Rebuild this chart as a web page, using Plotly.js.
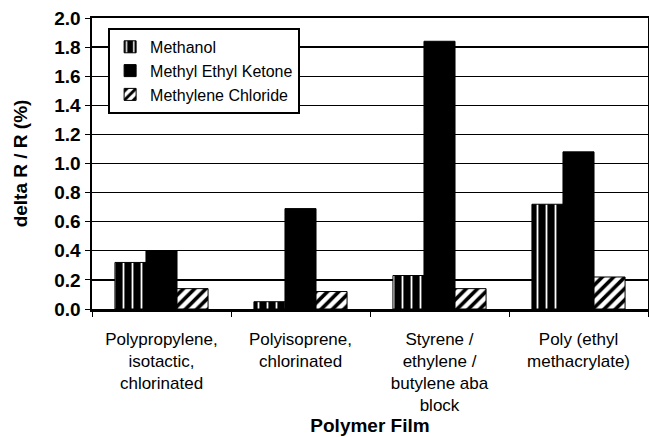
<!DOCTYPE html>
<html>
<head>
<meta charset="utf-8">
<script src="https://cdn.plot.ly/plotly-3.0.1.min.js"></script>
<style>html,body{margin:0;padding:0;background:#fff;}#chart{width:649px;height:437px;}</style>
</head>
<body>
<div id="chart"></div>
<script>
var categories = [
  "Polypropylene,<br>isotactic,<br>chlorinated",
  "Polyisoprene,<br>chlorinated",
  "Styrene /<br>ethylene /<br>butylene aba<br>block",
  "Poly (ethyl<br>methacrylate)"
];
var methanol = [0.32, 0.05, 0.23, 0.72];
var mek = [0.40, 0.69, 1.84, 1.08];
var methyleneChloride = [0.14, 0.12, 0.14, 0.22];
var seriesNames = ["Methanol", "Methyl Ethyl Ketone", "Methylene Chloride"];

var traces = [
  {
    type: 'bar', name: seriesNames[0], x: categories, y: methanol,
    marker: {color: 'black', line: {color: 'black', width: 1},
      pattern: {shape: '|', fgcolor: 'white', bgcolor: 'black', size: 9, solidity: 0.2, fillmode: 'replace'}}
  },
  {
    type: 'bar', name: seriesNames[1], x: categories, y: mek,
    marker: {color: 'black', line: {color: 'black', width: 1}}
  },
  {
    type: 'bar', name: seriesNames[2], x: categories, y: methyleneChloride,
    marker: {color: 'white', line: {color: 'black', width: 1},
      pattern: {shape: '/', fgcolor: 'black', bgcolor: 'white', size: 8, solidity: 0.45, fillmode: 'replace'}}
  }
];

var layout = {
  width: 649, height: 437,
  margin: {l: 92, r: 1, t: 18, b: 128},
  paper_bgcolor: 'white', plot_bgcolor: 'white',
  font: {family: 'Liberation Sans, Arial, sans-serif', color: 'black'},
  barmode: 'group', bargap: 0.33, bargroupgap: 0,
  showlegend: true,
  legend: {
    x: 0.029, y: 0.966, xanchor: 'left', yanchor: 'top',
    bgcolor: 'white', bordercolor: 'black', borderwidth: 2,
    font: {size: 16, color: 'black'}, tracegroupgap: 0,
    itemwidth: 30
  },
  xaxis: {
    type: 'category', tickson: 'boundaries', ticks: 'outside', ticklen: 5, tickcolor: 'black',
    showline: true, linecolor: 'black', linewidth: 2.5, mirror: true,
    tickfont: {size: 17, color: 'black'},
    ticklabelstandoff: 13,
    title: {text: '<b>Polymer Film</b>', font: {size: 19, color: 'black'}, standoff: 2}
  },
  yaxis: {
    range: [0, 2.0], dtick: 0.2, tickformat: '.1f',
    showgrid: true, gridcolor: 'black', gridwidth: 1.3,
    showline: true, linecolor: 'black', linewidth: 2.5, mirror: true,
    ticks: 'outside', ticklen: 5, tickcolor: 'black',
    zeroline: false,
    tickfont: {size: 19, color: 'black', weight: 'bold'},
    title: {text: '<b>delta R / R (%)</b>', font: {size: 19, color: 'black'}, standoff: 22}
  }
};

Plotly.newPlot('chart', traces, layout, {displayModeBar: false, staticPlot: true});
</script>
</body>
</html>
